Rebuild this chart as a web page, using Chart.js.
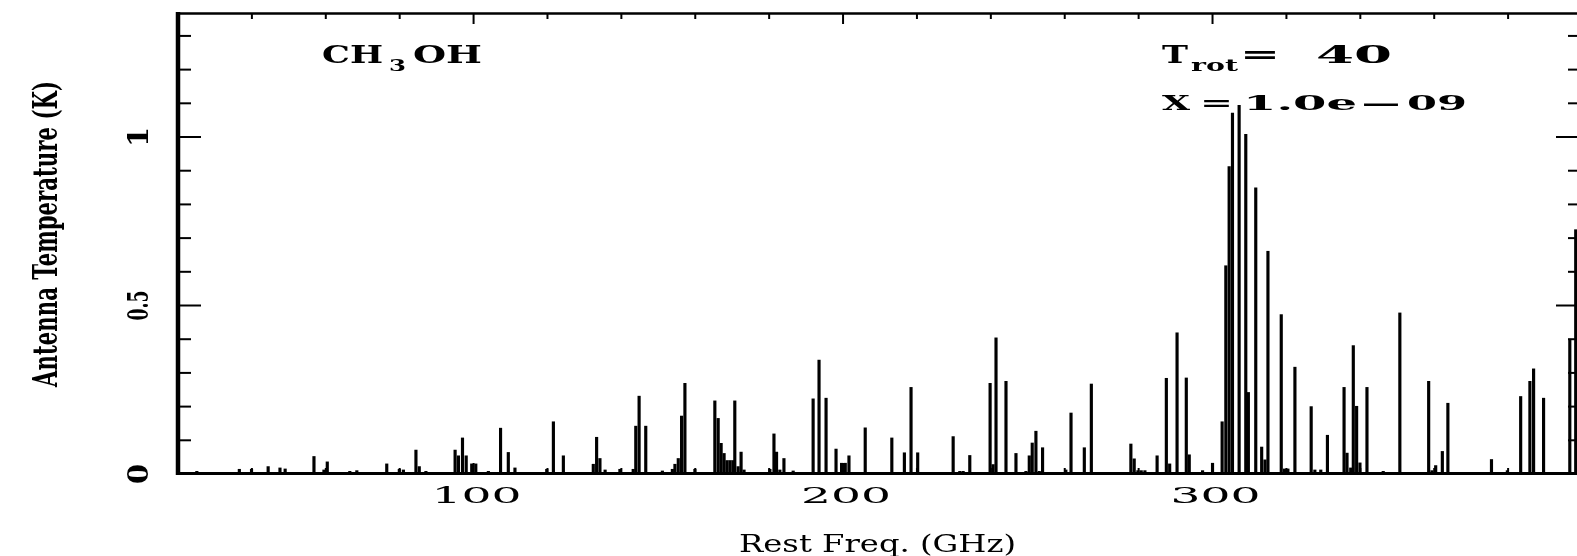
<!DOCTYPE html>
<html>
<head>
<meta charset="utf-8">
<script src="https://cdn.jsdelivr.net/npm/chart.js@4.4.1/dist/chart.umd.min.js"></script>
<style>
html,body{margin:0;padding:0;background:#fff;overflow:hidden;width:1577px;height:556px;}
canvas{display:block;}
</style>
</head>
<body>
<canvas id="c" width="1590" height="556"></canvas>
<script>
// Rest frequencies (GHz) of CH3OH lines
const freqs = [
 25.1, 36.6, 39.9, 44.4, 47.6, 49.0, 56.8, 57.5, 59.5, 60.4, 66.5, 68.4, 76.5, 79.9, 81.0,
 84.4, 85.3, 87.1, 95.0, 95.9, 97.0, 98.0, 99.5, 100.6, 104.0, 107.3, 109.4, 111.2,
 119.8, 121.6, 124.3, 132.4, 133.3, 134.2, 135.6, 139.6, 143.2, 143.9, 144.8, 146.6,
 151.1, 153.8, 154.5, 155.4, 156.3, 157.2, 159.9, 165.3, 166.2, 167.0, 167.8, 168.6,
 169.4, 170.2, 170.7, 171.6, 172.4, 173.2, 180.2, 181.3, 182.0, 182.9, 184.0, 186.5,
 191.9, 193.5, 195.4, 198.1, 199.6, 200.6, 201.6, 206.0,
 213.2, 216.6, 218.4, 220.2, 229.8, 231.6, 232.5, 234.3, 239.8, 240.6, 241.4, 244.1,
 246.8, 249.5, 250.4, 251.2, 252.2, 253.1, 254.0, 260.3, 261.7, 265.3, 267.2, 277.9,
 278.8, 279.8, 280.7, 281.7, 285.0, 287.5, 288.4, 290.4, 292.9, 293.7, 297.3, 300.0,
 302.6, 303.6, 304.5, 305.4, 307.2, 309.0, 309.7, 311.7, 313.3, 314.2, 315.0, 318.6,
 319.5, 320.4, 322.3, 326.7, 327.7, 329.3, 331.1, 335.6, 336.4, 337.4, 338.1, 339.0,
 339.9, 341.8, 346.2, 350.7, 358.5, 359.4, 360.4, 362.2, 363.7, 375.5, 379.8, 383.4,
 385.9, 386.9, 389.6, 393.8, 396.7, 398.3
];
// Antenna temperature (K)
const temps = [
 0.008, 0.014, 0.014, 0.022, 0.018, 0.015, 0.052, 0.005, 0.012, 0.036, 0.008, 0.010, 0.030, 0.014, 0.012,
 0.071, 0.022, 0.008, 0.071, 0.054, 0.107, 0.054, 0.030, 0.030, 0.008, 0.136, 0.064, 0.018,
 0.014, 0.155, 0.054, 0.029, 0.109, 0.046, 0.012, 0.014, 0.014, 0.142, 0.231, 0.142,
 0.009, 0.014, 0.029, 0.046, 0.172, 0.269, 0.014, 0.217, 0.165, 0.091, 0.061, 0.040,
 0.040, 0.040, 0.217, 0.022, 0.065, 0.012, 0.014, 0.119, 0.065, 0.012, 0.046, 0.009,
 0.223, 0.338, 0.225, 0.074, 0.032, 0.032, 0.054, 0.137,
 0.107, 0.063, 0.257, 0.063, 0.111, 0.008, 0.008, 0.055, 0.269, 0.028, 0.404, 0.275,
 0.061, 0.008, 0.054, 0.092, 0.127, 0.008, 0.078, 0.012, 0.181, 0.078, 0.267, 0.089,
 0.045, 0.010, 0.010, 0.010, 0.054, 0.284, 0.030, 0.419, 0.285, 0.057, 0.010, 0.032,
 0.155, 0.618, 0.912, 1.071, 1.094, 1.008, 0.242, 0.849, 0.080, 0.042, 0.661, 0.473,
 0.015, 0.015, 0.317, 0.200, 0.012, 0.012, 0.115, 0.257, 0.062, 0.018, 0.381, 0.201,
 0.033, 0.257, 0.008, 0.478, 0.275, 0.010, 0.025, 0.067, 0.210, 0.043, 0.010, 0.230,
 0.275, 0.312, 0.225, 0.005, 0.400, 0.725
];
const xTickLabels = [100, 200, 300];
const yTickLabels = [0, 0.5, 1];
const xRange = [20, 400];
const yRange = [0, 1.368];

const FONT = "'DejaVu Serif', 'Liberation Serif', serif";

function fitText(ctx, txt, x0, x1, baseY, size, weight) {
  ctx.save();
  ctx.font = weight + ' ' + size + 'px ' + FONT;
  ctx.textBaseline = 'alphabetic';
  ctx.textAlign = 'left';
  const w = ctx.measureText(txt).width;
  const s = (x1 - x0) / w;
  ctx.translate(x0, baseY);
  ctx.scale(s, 1);
  ctx.fillText(txt, 0, 0);
  ctx.restore();
}
// vertical text reading bottom to top; baseX is baseline x (glyph tops point left)
function fitTextV(ctx, txt, baseX, yBottom, yTop, size, weight) {
  ctx.save();
  ctx.font = weight + ' ' + size + 'px ' + FONT;
  ctx.textBaseline = 'alphabetic';
  ctx.textAlign = 'left';
  const w = ctx.measureText(txt).width;
  const s = (yBottom - yTop) / w;
  ctx.translate(baseX, yBottom);
  ctx.rotate(-Math.PI / 2);
  ctx.scale(s, 1);
  ctx.fillText(txt, 0, 0);
  ctx.restore();
}

const framePlugin = {
  id: 'frame',
  afterDraw(chart) {
    const ctx = chart.ctx;
    const xs = chart.scales.x, ys = chart.scales.y;
    const {left, right, top, bottom} = chart.chartArea;
    ctx.save();
    ctx.strokeStyle = '#000';
    ctx.fillStyle = '#000';
    ctx.lineCap = 'butt';
    function line(x0, y0, x1, y1, w) {
      ctx.lineWidth = w;
      ctx.beginPath(); ctx.moveTo(x0, y0); ctx.lineTo(x1, y1); ctx.stroke();
    }
    // frame
    line(left - 2, bottom - 0.5, right, bottom - 0.5, 3);
    line(left - 2, top + 0.5, right, top + 0.5, 2.5);
    line(left, top - 1, left, bottom + 1, 4.5);
    line(right, top - 1, right, bottom + 1, 3);
    // x ticks every 20 GHz, longer at 100s
    for (let v = xRange[0] + 20; v < xRange[1]; v += 20) {
      const px = xs.getPixelForValue(v);
      const major = xTickLabels.includes(v);
      const len = major ? 11 : 6;
      line(px, top, px, top + len, 2);
      line(px, bottom, px, bottom - len, 2);
    }
    // y ticks every 0.1, longer at 0.5
    for (let k = 1; k <= 13; k++) {
      const v = k / 10;
      const py = ys.getPixelForValue(v);
      const major = (k % 5 === 0);
      line(left, py, left + (major ? 23 : 13), py, 2);
      line(right, py, right - (major ? 26 : 14), py, 2);
    }
    // x tick labels
    xTickLabels.forEach(v => {
      const c = xs.getPixelForValue(v) + 3;
      fitText(ctx, String(v), c - 45, c + 45, 503, 22, 'normal');
    });
    // y tick labels (rotated)
    yTickLabels.forEach(v => {
      const c = ys.getPixelForValue(v);
      const t = String(v);
      const half = t.length === 1 ? 10 : 15;
      fitTextV(ctx, t, 148, c + half, c - half, 28, 'bold');
    });
    // axis titles
    fitText(ctx, 'Rest Freq. (GHz)', 739, 1016, 552, 25, 'normal');
    fitTextV(ctx, 'Antenna Temperature (K)', 57, 387, 81, 33, 'bold');
    // annotations
    fitText(ctx, 'CH', 322, 383, 63, 25, 'bold');
    fitText(ctx, '3', 389, 406, 71, 17, 'bold');
    fitText(ctx, 'OH', 413, 482, 63, 25, 'bold');
    fitText(ctx, 'T', 1162, 1188, 63, 25, 'bold');
    fitText(ctx, 'rot', 1191, 1238, 71, 17, 'bold');
    fitText(ctx, '=', 1240, 1280, 63, 25, 'bold');
    fitText(ctx, '40', 1316, 1392, 63, 25, 'bold');
    fitText(ctx, 'X', 1162, 1190, 110, 21, 'bold');
    fitText(ctx, '=', 1200, 1233, 110, 21, 'bold');
    fitText(ctx, '1.0e', 1243, 1357, 110, 21, 'bold');
    fitText(ctx, '\u2014', 1362, 1400, 110, 21, 'bold');
    fitText(ctx, '09', 1407, 1467, 110, 21, 'bold');
    ctx.restore();
  }
};

new Chart(document.getElementById('c'), {
  type: 'bar',
  data: {
    datasets: [{
      data: freqs.map((f, i) => ({x: f, y: temps[i]})),
      backgroundColor: '#000',
      borderWidth: 0,
      barThickness: 2.5
    }]
  },
  options: {
    responsive: false,
    animation: false,
    devicePixelRatio: 1,
    layout: {padding: {left: 178, top: 13, right: 8, bottom: 82}},
    plugins: {legend: {display: false}, tooltip: {enabled: false}},
    scales: {
      x: {type: 'linear', min: xRange[0], max: xRange[1], display: false, offset: false, grid: {offset: false}},
      y: {type: 'linear', min: yRange[0], max: yRange[1], display: false}
    }
  },
  plugins: [framePlugin]
});
</script>
</body>
</html>
